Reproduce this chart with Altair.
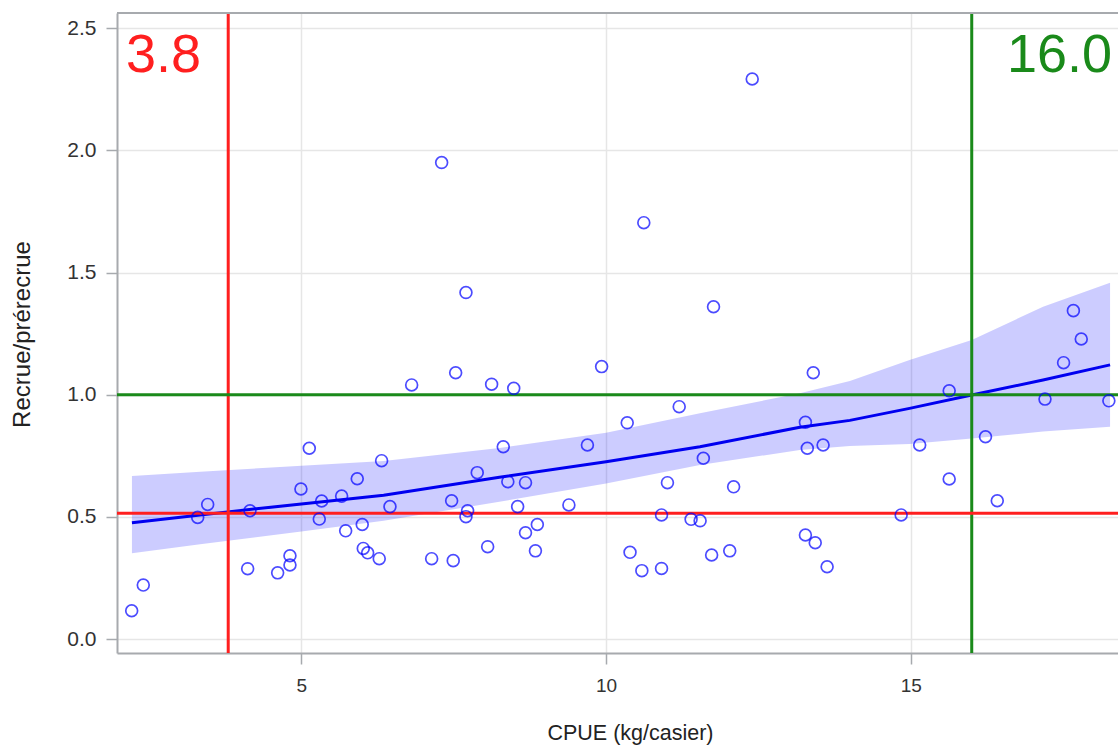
import altair as alt
import pandas as pd

# Observations: catch per unit effort (kg/casier) and recruit / pre-recruit ratio
cpue = [2.216, 2.406, 3.299, 3.463, 4.119, 4.157, 4.611, 4.813, 4.813, 4.993,
        5.130, 5.333, 5.294, 5.661, 5.727, 5.917, 5.999, 6.016, 6.088, 6.278,
        6.317, 6.454, 6.810, 7.138, 7.302, 7.466, 7.492, 7.532, 7.701, 7.728,
        7.701, 7.886, 8.057, 8.122, 8.313, 8.388, 8.485, 8.549, 8.678, 8.678,
        8.872, 8.841, 9.390, 9.694, 9.927, 10.347, 10.393, 10.587, 10.619, 10.910,
        10.910, 11.007, 11.200, 11.395, 11.543, 11.596, 11.732, 11.763, 12.029, 12.093,
        12.398, 13.271, 13.302, 13.271, 13.400, 13.432, 13.561, 13.627, 14.842, 15.146,
        15.630, 15.630, 16.226, 16.419, 17.202, 17.507, 17.668, 17.797, 18.250]
ratio = [0.116, 0.221, 0.498, 0.551, 0.288, 0.525, 0.271, 0.341, 0.303, 0.614,
         0.781, 0.565, 0.491, 0.585, 0.443, 0.656, 0.469, 0.371, 0.353, 0.329,
         0.730, 0.542, 1.040, 0.329, 1.950, 0.566, 0.321, 1.090, 1.418, 0.525,
         0.501, 0.681, 0.378, 1.043, 0.787, 0.644, 1.026, 0.542, 0.640, 0.435,
         0.469, 0.361, 0.549, 0.794, 1.115, 0.885, 0.355, 0.280, 1.704, 0.508,
         0.289, 0.640, 0.951, 0.490, 0.484, 0.740, 0.344, 1.360, 0.361, 0.623,
         2.292, 0.887, 0.781, 0.426, 1.090, 0.394, 0.794, 0.296, 0.508, 0.794,
         1.016, 0.655, 0.828, 0.566, 0.982, 1.131, 1.344, 1.228, 0.975]

# Fitted curve with its confidence band
fit_x = [2.22, 3.34, 5.00, 6.35, 8.25, 10.00, 11.54, 13.18, 14.00, 14.98, 16.00, 17.17, 18.27]
fit_y = [0.476, 0.508, 0.553, 0.589, 0.662, 0.726, 0.787, 0.867, 0.895, 0.944, 0.999, 1.060, 1.122]
fit_lo = [0.351, 0.388, 0.440, 0.484, 0.562, 0.637, 0.712, 0.774, 0.790, 0.798, 0.821, 0.849, 0.869]
fit_hi = [0.667, 0.685, 0.709, 0.729, 0.782, 0.844, 0.924, 1.006, 1.056, 1.142, 1.224, 1.360, 1.458]

# Reference thresholds
cut_lo_x = 3.8
cut_lo_y = 0.515
cut_hi_x = 16.0
cut_hi_y = 1.0

x_ticks = [5, 10, 15]
y_ticks = [0.0, 0.5, 1.0, 1.5, 2.0, 2.5]

W, H = 1001, 640
FONT = "Liberation Sans"
RED = "#ff1f1f"
GREEN = "#1a8a1a"
BLUE = "#0000ff"
AXIS_GREY = "#a7aaae"

pts = pd.DataFrame({"x": cpue, "y": ratio})
fit = pd.DataFrame({"x": fit_x, "y": fit_y, "lo": fit_lo, "hi": fit_hi})

xs = alt.Scale(domain=[1.975, 18.40], nice=False, zero=False)
ys = alt.Scale(domain=[-0.057, 2.562], nice=False, zero=False)

x_axis = alt.Axis(values=x_ticks, format="d", title="CPUE (kg/casier)", grid=True,
                  titleX=513, titleY=80, titleBaseline="middle", titleAnchor="start",
                  titleAlign="center", labelPadding=12, labelFontSize=19, titleFontSize=21.5)
y_axis = alt.Axis(values=y_ticks, format=".1f", title="Recrue/prérecrue", grid=True,
                  titleX=-95, titleY=321, titleAngle=-90, titleBaseline="middle",
                  titleAlign="center", titleAnchor="start", labelPadding=10,
                  labelFontSize=21, titleFontSize=24)

band = alt.Chart(fit).mark_area(color=BLUE, opacity=0.2).encode(
    x=alt.X("x:Q", scale=xs, axis=x_axis),
    y=alt.Y("lo:Q", scale=ys, axis=y_axis),
    y2="hi:Q",
)

line = alt.Chart(fit).mark_line(color="#0000f0", strokeWidth=3).encode(
    x=alt.X("x:Q", scale=xs),
    y=alt.Y("y:Q", scale=ys),
)

vlines = pd.DataFrame({"x": [cut_lo_x, cut_hi_x], "c": [RED, GREEN]})
hlines = pd.DataFrame({"y": [cut_lo_y, cut_hi_y], "c": [RED, GREEN]})

vrule = alt.Chart(vlines).mark_rule(strokeWidth=3).encode(
    x=alt.X("x:Q", scale=xs),
    color=alt.Color("c:N", scale=None),
)
hrule = alt.Chart(hlines).mark_rule(strokeWidth=3).encode(
    y=alt.Y("y:Q", scale=ys),
    color=alt.Color("c:N", scale=None),
)

dots = alt.Chart(pts).mark_point(shape="circle", filled=False, color=BLUE,
                                 size=140, strokeWidth=1.7).encode(
    x=alt.X("x:Q", scale=xs),
    y=alt.Y("y:Q", scale=ys),
)

labels = pd.DataFrame({"t": [f"{cut_lo_x:.1f}", f"{cut_hi_x:.1f}"]})
lab_lo = alt.Chart(labels.iloc[[0]]).mark_text(
    font=FONT, fontSize=54, align="left", baseline="alphabetic", color=RED
).encode(text="t:N", x=alt.value(9), y=alt.value(59))
lab_hi = alt.Chart(labels.iloc[[1]]).mark_text(
    font=FONT, fontSize=54, align="right", baseline="alphabetic", color=GREEN
).encode(text="t:N", x=alt.value(W - 6), y=alt.value(59))

# top frame edge
top_edge = alt.Chart(pts).mark_rule(color=AXIS_GREY, strokeWidth=2).encode(
    x=alt.value(0), x2=alt.value(W), y=alt.value(0)
)

chart = alt.layer(band, line, vrule, hrule, dots, lab_lo, lab_hi, top_edge).properties(
    width=W, height=H,
    padding={"left": 117, "top": 13, "right": 0, "bottom": 93},
    autosize=alt.AutoSizeParams(type="none"),
    background="white",
).configure_view(stroke=None).configure_axis(
    labelFont=FONT, labelColor="#333333",
    titleFont=FONT, titleColor="#222222", titleFontWeight="normal",
    domainColor=AXIS_GREY, domainWidth=2, tickColor=AXIS_GREY, tickSize=11, tickWidth=1.5,
    gridColor="#e6e6e6", gridWidth=1.5,
)

chart.save("out.html", embed_options={"renderer": "svg", "actions": False})
